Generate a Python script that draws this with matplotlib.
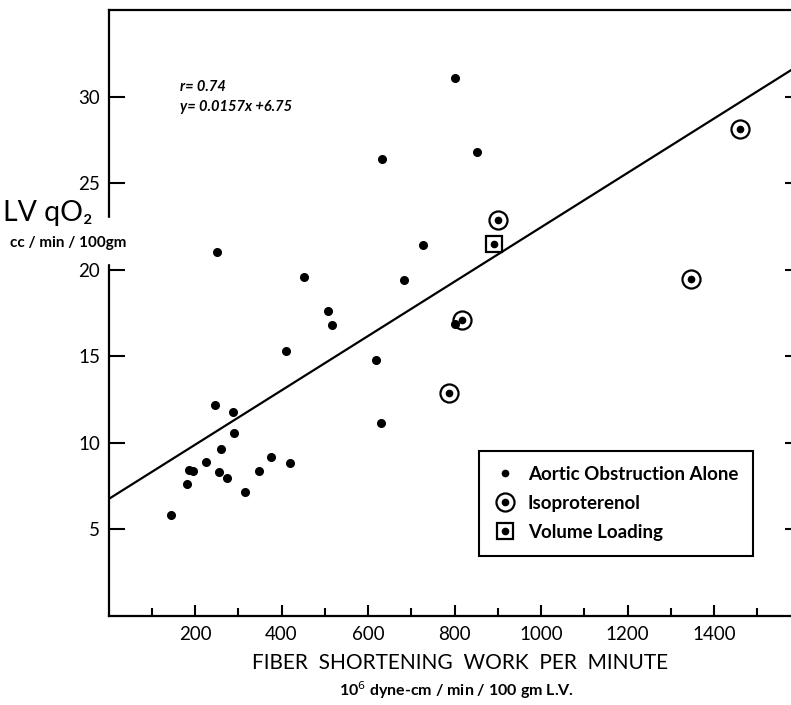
# LV oxygen consumption vs fiber shortening work
import matplotlib.pyplot as plt
from matplotlib.lines import Line2D
from matplotlib.legend_handler import HandlerTuple
from matplotlib.patches import Rectangle

plt.rcParams['font.family'] = ['Lato', 'DejaVu Sans']

# aortic obstruction alone
aortic_x = [144, 182, 185, 195, 225, 247, 256, 261, 275, 287, 290, 316, 347,
            375, 420, 410, 250, 451, 507, 517, 618, 631, 632, 684, 727, 802,
            802, 853]
aortic_y = [5.86, 7.65, 8.45, 8.36, 8.9, 12.16, 8.32, 9.66, 7.95, 11.78,
            10.55, 7.15, 8.36, 9.18, 8.86, 15.33, 21.0, 19.56, 17.6, 16.8,
            14.8, 11.14, 26.4, 19.4, 21.4, 31.05, 16.85, 26.8]

# isoproterenol
iso_x = [787, 818, 900, 1347, 1461]
iso_y = [12.87, 17.1, 22.9, 19.46, 28.15]

# volume loading
vol_x = [891]
vol_y = [21.5]

# regression
slope = 0.0157
intercept = 6.75
r_value = 0.74

x_major = [200, 400, 600, 800, 1000, 1200, 1400, 1600]
x_labels = ['200', '400', '600', '800', '1000', '1200', '1400', '']
x_minor = [100, 300, 500, 700, 900, 1100, 1300, 1500]
y_major = [5, 10, 15, 20, 25, 30]

W, H = 791, 705
fig = plt.figure(figsize=(W / 100, H / 100), dpi=100)
ax = fig.add_axes([108.5 / W, (H - 616) / H, 692 / W, 606 / H])

ax.set_xlim(0, 1600)
ax.set_ylim(0, 35)

# fitted line
lx = [0, 1600]
ly = [slope * v + intercept for v in lx]
ax.plot(lx, ly, color='black', lw=1.6, zorder=2)

ax.plot(aortic_x, aortic_y, 'o', color='black', ms=5.5, zorder=3)
ax.plot(iso_x, iso_y, 'o', color='black', ms=4.5, zorder=3)
ax.plot(iso_x, iso_y, 'o', mfc='none', mec='black', mew=1.6, ms=13, zorder=3)
ax.plot(vol_x, vol_y, 'o', color='black', ms=4.5, zorder=3)
ax.plot(vol_x, vol_y, 's', mfc='none', mec='black', mew=1.6, ms=11, zorder=3)

ax.text(165, 30.35, f'r= {r_value}', fontsize=10.5, style='italic',
        fontweight='bold')
ax.text(165, 29.15, f'y= {slope}x +{intercept}', fontsize=10.5,
        style='italic', fontweight='bold')

for s in ax.spines.values():
    s.set_linewidth(1.6)

ax.set_xticks(x_major)
ax.set_xticklabels(x_labels)
ax.set_xticks(x_minor, minor=True)
ax.set_yticks(y_major)
ax.tick_params(axis='x', which='major', direction='in', length=8, width=1.5,
               labelsize=13.5, pad=7)
ax.tick_params(axis='x', which='minor', direction='in', length=6, width=1.5)
ax.tick_params(axis='y', which='major', direction='in', length=11.5,
               width=1.5, labelsize=13.5, pad=6, right=True)

# legend
h_aortic = Line2D([], [], ls='none', marker='o', color='black', ms=4.5)
h_iso = (Line2D([], [], ls='none', marker='o', mfc='none', mec='black',
                mew=1.6, ms=13),
         Line2D([], [], ls='none', marker='o', color='black', ms=4.5))
h_vol = (Line2D([], [], ls='none', marker='s', mfc='none', mec='black',
                mew=1.6, ms=11),
         Line2D([], [], ls='none', marker='o', color='black', ms=4.5))
leg = ax.legend([h_aortic, h_iso, h_vol],
                ['Aortic Obstruction Alone', 'Isoproterenol', 'Volume Loading'],
                handler_map={tuple: HandlerTuple(ndivide=1)},
                loc='lower left', bbox_to_anchor=(479 / W, (H - 556) / H),
                bbox_transform=fig.transFigure, fancybox=False,
                edgecolor='black', framealpha=1,
                prop={'weight': 'bold', 'size': 13.5}, handlelength=1.2,
                handletextpad=0.6, labelspacing=0.65, borderpad=0.8,
                borderaxespad=0)
leg.get_frame().set_linewidth(1.5)

# gap in the left spine behind the label
fig.add_artist(Rectangle((100 / W, (H - 263) / H), 16 / W, 45 / H,
                         transform=fig.transFigure, color='white', zorder=5))

fig.text(3 / W, 1 - 213 / H, 'LV qO₂', fontsize=20.5, va='center',
         ha='left', zorder=6)
fig.text(68 / W, 1 - 243 / H, 'cc / min / 100gm', fontsize=11,
         fontweight='bold', va='center', ha='center', zorder=6)

fig.text(460 / W, 1 - 663 / H, 'FIBER  SHORTENING  WORK  PER  MINUTE',
         fontsize=15, ha='center', va='center')
fig.text(457 / W, 1 - 690 / H, '10$^6$ dyne-cm / min / 100 gm L.V.',
         fontsize=11.5, fontweight='bold', ha='center', va='center')

plt.savefig('out.png', dpi=100)
